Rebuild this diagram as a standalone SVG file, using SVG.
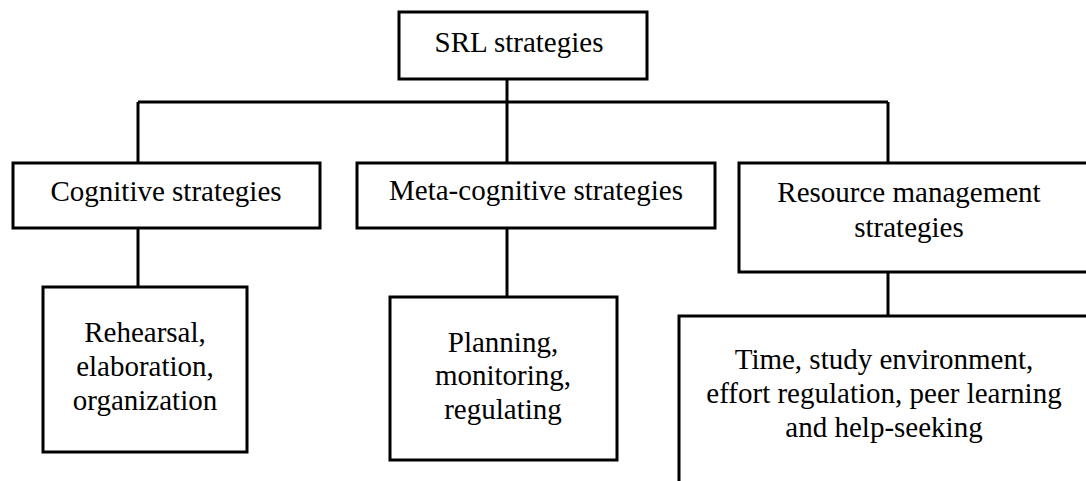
<svg xmlns="http://www.w3.org/2000/svg" width="1086" height="481" viewBox="0 0 1086 481">
<style>
.box{fill:#fff;stroke:#000;stroke-width:3}
.ln{fill:none;stroke:#000;stroke-width:3}
.t{font-family:'Liberation Serif','Times New Roman',Times,'DejaVu Serif',serif;font-size:29px;fill:#000;text-anchor:middle}
</style>
<rect width="1086" height="481" fill="#fff"/>
<g id="connectors">
<path class="ln" d="M507,79 V102"/>
<path class="ln" d="M138,102 H888"/>
<path class="ln" d="M138,102 V163"/>
<path class="ln" d="M507,102 V163"/>
<path class="ln" d="M888,102 V163"/>
<path class="ln" d="M138,228 V287"/>
<path class="ln" d="M507,228 V297"/>
<path class="ln" d="M888,272 V316"/>
</g>
<g id="srl">
<rect class="box" x="399" y="12" width="248" height="67"/>
<text class="t" x="519" y="52">SRL strategies</text>
</g>
<g id="cognitive">
<rect class="box" x="13" y="163" width="307" height="65"/>
<text class="t" x="166" y="201">Cognitive strategies</text>
</g>
<g id="metacognitive">
<rect class="box" x="357" y="163" width="358" height="65"/>
<text class="t" x="536" y="200">Meta-cognitive strategies</text>
</g>
<g id="resource">
<rect class="box" x="739" y="163" width="360" height="109"/>
<text class="t" x="909" y="202">Resource management</text>
<text class="t" x="909" y="237">strategies</text>
</g>
<g id="cognitive-detail">
<rect class="box" x="43" y="287" width="204" height="165"/>
<text class="t" x="145" y="342">Rehearsal,</text>
<text class="t" x="145" y="376">elaboration,</text>
<text class="t" x="145" y="410">organization</text>
</g>
<g id="metacognitive-detail">
<rect class="box" x="390" y="297" width="227" height="163"/>
<text class="t" x="503" y="352">Planning,</text>
<text class="t" x="503" y="385">monitoring,</text>
<text class="t" x="503" y="419">regulating</text>
</g>
<g id="resource-detail">
<rect class="box" x="679" y="316" width="420" height="200"/>
<text class="t" x="884" y="369">Time, study environment,</text>
<text class="t" x="884" y="403">effort regulation, peer learning</text>
<text class="t" x="884" y="437">and help-seeking</text>
</g>
</svg>
